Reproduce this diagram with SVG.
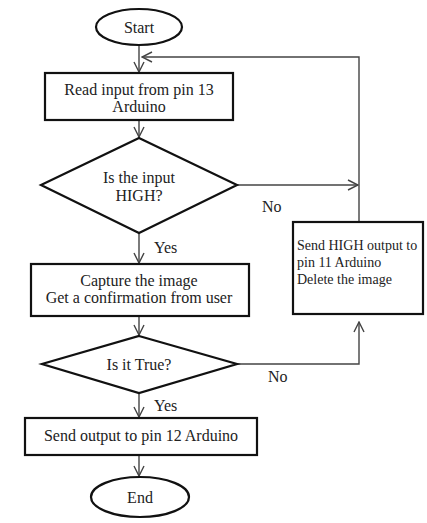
<svg xmlns="http://www.w3.org/2000/svg" width="427" height="523" viewBox="0 0 427 523">
<style>
.shape{fill:#fff;stroke:#111;stroke-width:2.2}
.conn{fill:none;stroke:#444;stroke-width:1.4}
text{font-family:'Liberation Serif','Times New Roman','DejaVu Serif',serif;font-size:16px;fill:#222}
.c{text-anchor:middle}
.s{font-size:14px}
</style>
<defs>
<marker id="arr" viewBox="0 0 12 12" refX="11" refY="6" markerWidth="12" markerHeight="12" markerUnits="userSpaceOnUse" orient="auto">
<path d="M1,1 L11,6 L1,11" fill="none" stroke="#444" stroke-width="1.4"/>
</marker>
</defs>
<rect width="427" height="523" fill="#fff"/>
<g id="connectors">
<line class="conn" x1="139" y1="45" x2="139" y2="72" marker-end="url(#arr)"/>
<polyline class="conn" points="359,222 359,57 142,57" marker-end="url(#arr)"/>
<line class="conn" x1="139" y1="120" x2="139" y2="137" marker-end="url(#arr)"/>
<line class="conn" x1="237" y1="185" x2="358" y2="185" marker-end="url(#arr)"/>
<line class="conn" x1="139" y1="233" x2="139" y2="263" marker-end="url(#arr)"/>
<line class="conn" x1="139" y1="316" x2="139" y2="335" marker-end="url(#arr)"/>
<polyline class="conn" points="237,364 359,364 359,322" marker-end="url(#arr)"/>
<line class="conn" x1="139" y1="393" x2="139" y2="417" marker-end="url(#arr)"/>
<line class="conn" x1="139" y1="455" x2="139" y2="476" marker-end="url(#arr)"/>
<text x="262" y="212">No</text>
<text x="154" y="253">Yes</text>
<text x="268" y="382">No</text>
<text x="154" y="411">Yes</text>
</g>
<g id="start">
<ellipse class="shape" cx="139" cy="27" rx="43" ry="18"/>
<text class="c" x="139" y="33">Start</text>
</g>
<g id="read">
<rect class="shape" x="45" y="73" width="188" height="47"/>
<text class="c" x="139" y="95">Read input from pin 13</text>
<text class="c" x="139" y="112">Arduino</text>
</g>
<g id="decision1">
<polygon class="shape" points="139,138 237,185 139,233 41,185"/>
<text class="c" x="139" y="183">Is the input</text>
<text class="c" x="139" y="201">HIGH?</text>
</g>
<g id="sendhigh">
<rect class="shape" x="293" y="222" width="130" height="92"/>
<text class="s" x="297" y="250">Send HIGH output to</text>
<text class="s" x="297" y="267">pin 11 Arduino</text>
<text class="s" x="297" y="284">Delete the image</text>
</g>
<g id="capture">
<rect class="shape" x="31" y="264" width="218" height="52"/>
<text class="c" x="139" y="286">Capture the image</text>
<text class="c" x="139" y="303">Get a confirmation from user</text>
</g>
<g id="decision2">
<polygon class="shape" points="139,336 237,364 139,393 42,364"/>
<text class="c" x="139" y="370">Is it True?</text>
</g>
<g id="sendout">
<rect class="shape" x="25" y="418" width="232" height="37"/>
<text class="c" x="141" y="441">Send output to pin 12 Arduino</text>
</g>
<g id="end">
<ellipse class="shape" cx="140" cy="497" rx="49" ry="20"/>
<text class="c" x="140" y="503">End</text>
</g>
</svg>
